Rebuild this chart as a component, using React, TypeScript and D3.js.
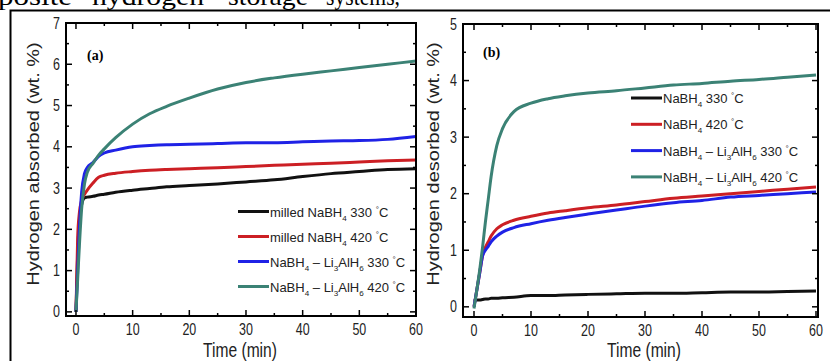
import React, { useEffect, useRef } from "react";
import * as d3 from "d3";

// panel (a): absorption
const timeA = [0, 0.3, 0.6, 1, 1.5, 2, 3, 4, 5, 7, 10, 13, 16, 20, 25, 30, 35, 40, 45, 50, 55, 60];
const milled330A = [0, 1.4, 2.2, 2.6, 2.76, 2.78, 2.8, 2.83, 2.85, 2.9, 2.95, 2.99, 3.03, 3.06, 3.1, 3.15, 3.2, 3.28, 3.35, 3.4, 3.45, 3.47];
const milled420A = [0, 1.8, 2.4, 2.7, 2.85, 2.95, 3.12, 3.26, 3.31, 3.36, 3.4, 3.43, 3.45, 3.47, 3.49, 3.52, 3.55, 3.58, 3.6, 3.63, 3.66, 3.68];
const composite330A = [0, 1.0, 2.0, 2.9, 3.35, 3.5, 3.62, 3.77, 3.85, 3.92, 4.0, 4.03, 4.05, 4.06, 4.08, 4.1, 4.1, 4.12, 4.14, 4.15, 4.18, 4.25];
const composite420A = [0, 0.8, 1.6, 2.5, 3.1, 3.38, 3.6, 3.8, 3.95, 4.22, 4.55, 4.8, 4.98, 5.18, 5.4, 5.56, 5.67, 5.76, 5.84, 5.92, 6.0, 6.08];

// panel (b): desorption
const timeB = [0, 0.5, 1, 1.5, 2, 2.5, 3, 4, 5, 7, 10, 13, 16, 20, 25, 30, 35, 40, 45, 50, 55, 60];
const nabh330B = [0.1, 0.12, 0.12, 0.13, 0.14, 0.14, 0.15, 0.15, 0.16, 0.17, 0.2, 0.2, 0.21, 0.22, 0.23, 0.24, 0.24, 0.25, 0.26, 0.26, 0.27, 0.28];
const nabh420B = [0, 0.3, 0.6, 0.9, 1.05, 1.15, 1.25, 1.38, 1.45, 1.53, 1.6, 1.66, 1.7, 1.75, 1.8, 1.86, 1.92, 1.96, 2.0, 2.04, 2.08, 2.12];
const composite330B = [0, 0.3, 0.6, 0.9, 1.0, 1.07, 1.15, 1.25, 1.32, 1.4, 1.47, 1.53, 1.58, 1.64, 1.71, 1.78, 1.84, 1.88, 1.94, 1.97, 2.0, 2.03];
const composite420B = [-0.03, 0.3, 0.65, 1.05, 1.5, 1.9, 2.3, 2.85, 3.15, 3.45, 3.6, 3.68, 3.73, 3.78, 3.82, 3.87, 3.92, 3.95, 3.99, 4.02, 4.06, 4.1];

const xMajor = [0, 10, 20, 30, 40, 50, 60];
const xMinor = [5, 15, 25, 35, 45, 55];
const yMajorA = [0, 1, 2, 3, 4, 5, 6, 7];
const yMajorB = [0, 1, 2, 3, 4, 5];

const labelsA = ["milled NaBH_4 330 ^°C", "milled NaBH_4 420 ^°C", "NaBH_4 – Li_3AlH_6 330 ^°C", "NaBH_4 – Li_3AlH_6 420 ^°C"];
const labelsB = ["NaBH_4 330 ^°C", "NaBH_4 420 ^°C", "NaBH_4 – Li_3AlH_6 330 ^°C", "NaBH_4 – Li_3AlH_6 420 ^°C"];

const colors = ["#111111", "#cc1f24", "#1f22e6", "#3b8275"];
const sans = "'Liberation Sans', Arial, sans-serif";
const serif = "'Liberation Serif', 'Times New Roman', serif";

// "_4" -> subscript, "^°" -> superscript
function richText(sel, label, size) {
  const parts = label.split(/(_\d|\^°)/).filter(s => s !== "");
  let offset = 0;
  parts.forEach(part => {
    let target = 0, txt = part, fs = size;
    if (part[0] === "_") { target = 4; txt = part.slice(1); fs = size * 0.62; }
    else if (part[0] === "^") { target = -5; txt = part.slice(1); fs = size * 0.62; }
    sel.append("tspan").attr("font-size", fs).attr("dy", target - offset).text(txt);
    offset = target;
  });
}

function drawPanel(svg, p) {
  const x = d3.scaleLinear().domain(p.xDomain).range([p.left, p.right]);
  const y = d3.scaleLinear().domain(p.yDomain).range([p.bottom, p.top]);
  const g = svg.append("g");

  const line = d3.line().x(d => x(d[0])).y(d => y(d[1])).curve(d3.curveMonotoneX);
  p.series.forEach((s, i) => {
    g.append("path")
      .datum(d3.zip(p.time, s))
      .attr("d", line)
      .attr("fill", "none")
      .attr("stroke", colors[i])
      .attr("stroke-width", 3)
      .attr("stroke-linejoin", "round");
  });

  const yMinor = d3.range(0.5, p.yDomain[1], 1);
  const ticks = g.append("g").attr("stroke", "#000").attr("stroke-width", 1.5);
  [[xMajor, 6], [xMinor, 3]].forEach(([vals, len]) => {
    vals.forEach(v => {
      ticks.append("line").attr("x1", x(v)).attr("x2", x(v)).attr("y1", p.bottom).attr("y2", p.bottom - len);
      ticks.append("line").attr("x1", x(v)).attr("x2", x(v)).attr("y1", p.top).attr("y2", p.top + len);
    });
  });
  [[p.yMajor, 6], [yMinor, 3]].forEach(([vals, len]) => {
    vals.forEach(v => {
      ticks.append("line").attr("y1", y(v)).attr("y2", y(v)).attr("x1", p.left).attr("x2", p.left + len);
      ticks.append("line").attr("y1", y(v)).attr("y2", y(v)).attr("x1", p.right).attr("x2", p.right - len);
    });
  });

  g.append("rect")
    .attr("x", p.left).attr("y", p.top)
    .attr("width", p.right - p.left).attr("height", p.bottom - p.top)
    .attr("fill", "none").attr("stroke", "#000").attr("stroke-width", 2);

  // tick labels
  xMajor.forEach(v => {
    g.append("text")
      .attr("transform", `translate(${x(v)},${p.bottom + 19}) scale(0.78,1)`)
      .attr("text-anchor", "middle").attr("font-family", sans).attr("font-size", 16).attr("fill", "#222")
      .text(v);
  });
  p.yMajor.forEach(v => {
    g.append("text")
      .attr("transform", `translate(${p.left - 6},${y(v) + 5.5}) scale(0.78,1)`)
      .attr("text-anchor", "end").attr("font-family", sans).attr("font-size", 16).attr("fill", "#222")
      .text(v);
  });

  g.append("text")
    .attr("transform", `translate(${p.xTitleX},357) scale(0.78,1)`)
    .attr("text-anchor", "middle").attr("font-family", sans).attr("font-size", 20).attr("fill", "#222")
    .text("Time (min)");
  g.append("text")
    .attr("transform", `translate(${p.yTitleX},164) rotate(-90) scale(1,0.8)`)
    .attr("text-anchor", "middle").attr("font-family", sans).attr("font-size", 20).attr("fill", "#222")
    .text(p.yTitle);

  g.append("text")
    .attr("x", p.tag[0]).attr("y", p.tag[1])
    .attr("font-family", serif).attr("font-weight", "bold").attr("font-size", 14)
    .text(p.tagText);

  // legend
  p.legend.forEach((lab, i) => {
    const ly = p.legendY + i * p.legendStep;
    g.append("line")
      .attr("x1", p.legendX).attr("x2", p.legendX + 31)
      .attr("y1", ly).attr("y2", ly)
      .attr("stroke", colors[i]).attr("stroke-width", 3);
    const t = g.append("text")
      .attr("x", p.legendX + 32).attr("y", ly + 5)
      .attr("font-family", sans).attr("font-size", p.legendSize).attr("fill", "#222");
    richText(t, lab, p.legendSize);
  });
}

export default function App() {
  const ref = useRef(null);

  useEffect(() => {
    const svg = d3.select(ref.current);
    svg.selectAll("*").remove();

    // cropped caption line and figure border
    const words = [["posite", -2, 74], ["hydrogen", 92, 112], ["storage", 228, 80], ["systems,", 326, 74]];
    words.forEach(([w, x0, len]) => {
      svg.append("text")
        .attr("x", x0).attr("y", 5)
        .attr("textLength", len).attr("lengthAdjust", "spacingAndGlyphs")
        .attr("font-family", serif).attr("font-size", 26)
        .text(w);
    });
    svg.append("path")
      .attr("d", "M10.5,361 V10.5 H830")
      .attr("fill", "none").attr("stroke", "#000").attr("stroke-width", 2);

    drawPanel(svg, {
      left: 66, right: 416, top: 23, bottom: 316,
      xDomain: [-1.76, 60], yDomain: [-0.1, 7],
      yMajor: yMajorA, time: timeA,
      series: [milled330A, milled420A, composite330A, composite420A],
      legend: labelsA, legendX: 238, legendY: 211.5, legendStep: 25, legendSize: 13,
      xTitleX: 240, yTitleX: 39, yTitle: "Hydrogen absorbed (wt. %)",
      tag: [87, 60], tagText: "(a)"
    });
    drawPanel(svg, {
      left: 463, right: 818, top: 24, bottom: 317,
      xDomain: [-1.93, 60.35], yDomain: [-0.18, 5],
      yMajor: yMajorB, time: timeB,
      series: [nabh330B, nabh420B, composite330B, composite420B],
      legend: labelsB, legendX: 631, legendY: 98, legendStep: 26.3, legendSize: 13,
      xTitleX: 644, yTitleX: 439, yTitle: "Hydrogen desorbed (wt. %)",
      tag: [483, 57], tagText: "(b)"
    });
  }, []);

  return (
    <svg ref={ref} width={830} height={361}
      style={{ position: "absolute", left: 0, top: 0, background: "#fff" }} />
  );
}
